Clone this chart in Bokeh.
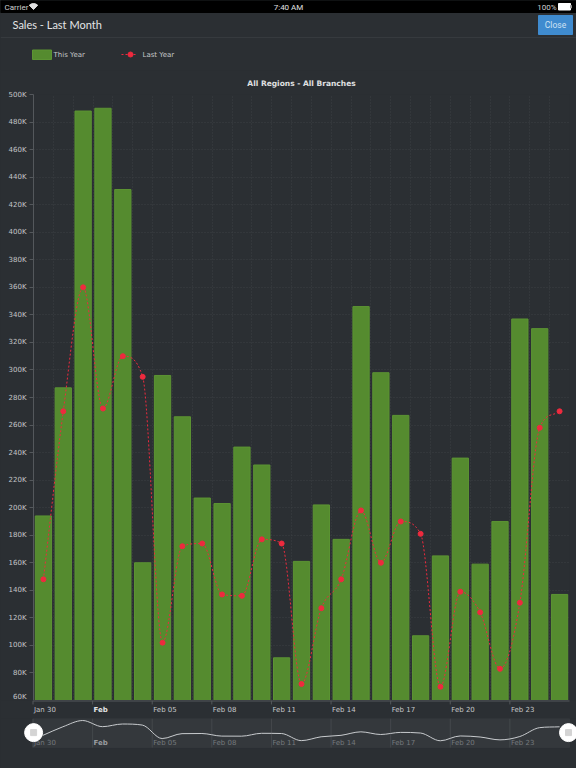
from bokeh.plotting import figure
from bokeh.layouts import column
from bokeh.models import Range1d, FixedTicker, ColumnDataSource, Title
from bokeh.core.properties import value
from bokeh.embed import file_html
from bokeh.resources import INLINE

# ---- data ----
this_year = [194, 287, 488, 490, 431, 160, 296, 266, 207, 203, 244, 231, 91, 161, 202, 177,
             346, 298, 267, 107, 165, 236, 159, 190, 337, 330, 137]
last_year = [148, 270, 360, 272, 310, 295, 102, 172, 174, 137, 136, 177, 174, 72, 127, 148,
             198, 160, 190, 181, 70, 139, 124, 83, 131, 258, 270]
tick_index = [0, 3, 6, 9, 12, 15, 18, 21, 24]
tick_text = ["Jan 30", "Feb", "Feb 05", "Feb 08", "Feb 11", "Feb 14", "Feb 17", "Feb 20", "Feb 23"]
y_ticks = list(range(60, 501, 20))
series_names = ["This Year", "Last Year"]

# ---- style ----
BG = "#2b2f33"
GRID = "#3d4145"
AXIS = "#54585c"
GREEN = "#558b2f"
GREEN_EDGE = "#5c9433"
RED = "#ee2a3e"
TXT = "#c4c6c8"
SANS = "DejaVu Sans"
PX = 536.5 / 27


def monotone_segments(values):
    """Cubic bezier segments (monotone-x) through the points at bar centres."""
    n = len(values)
    d = [values[i + 1] - values[i] for i in range(n - 1)]
    m = [0.0] * n
    for i in range(1, n - 1):
        if d[i - 1] * d[i] > 0:
            m[i] = (d[i - 1] + d[i]) / 2
            s = min(abs(d[i - 1]), abs(d[i]))
            m[i] = max(-3 * s, min(3 * s, m[i]))
    m[0], m[-1] = d[0], d[-1]
    return dict(
        x0=[i + 0.5 for i in range(n - 1)], y0=values[:-1],
        x1=[i + 1.5 for i in range(n - 1)], y1=values[1:],
        cx0=[i + 0.5 + 1 / 3 for i in range(n - 1)],
        cy0=[values[i] + m[i] / 3 for i in range(n - 1)],
        cx1=[i + 1.5 - 1 / 3 for i in range(n - 1)],
        cy1=[values[i + 1] - m[i + 1] / 3 for i in range(n - 1)],
    )


segments = monotone_segments(last_year)
centers = [i + 0.5 for i in range(len(this_year))]
wide_x = (-32.5 / PX, 27 + 7 / PX)


def bare(height, x_range, y_range):
    f = figure(width=576, height=height, x_range=x_range, y_range=y_range,
               output_backend="svg", toolbar_location=None, min_border=0,
               x_axis_location=None, y_axis_location=None, frame_align=False,
               background_fill_color=BG, border_fill_color=BG, outline_line_color=None)
    f.grid.visible = False
    return f


# ---- header (status bar, title bar, legend) in pixel-like coordinates ----
h = bare(70, Range1d(0, 576), Range1d(70, 0))
h.quad(left=[0], right=[576], top=[0], bottom=[12], color="#000000")
h.segment([0], [37], [576], [37], line_color="#363a3e", line_width=1)
h.quad(left=[538], right=[572], top=[15], bottom=[34], color="#3f8bcf")


def htext(x, y, s, size, color="#d8dadc", font="Roboto", align="left", style="normal"):
    h.text([x], [y], text=[s], text_font=value(font), text_font_size=f"{size}px", text_color=color,
           text_align=align, text_baseline="middle", text_font_style=style)


htext(4, 6.5, "Carrier", 8, "#d0d0d0")
h.wedge([33], [9], radius=6, start_angle=0.8, end_angle=2.35, color="#e0e0e0", direction="anticlock")
htext(288, 6.5, "7:40 AM", 8, "#e0e0e0", align="center")
htext(556, 6.5, "100%", 8, "#d0d0d0", align="right")
h.quad(left=[558], right=[570], top=[3], bottom=[9.5], color="#ffffff")
h.quad(left=[570], right=[571], top=[5], bottom=[7.5], color="#9a9a9a")
htext(12, 24, "Sales - Last Month", 11, "#e4e5e6", font="Lato")
htext(555, 24.5, "Close", 8.5, "#cfe2f3", align="center")
h.quad(left=[32], right=[51], top=[49.5], bottom=[59], fill_color=GREEN, line_color=GREEN_EDGE)
htext(53, 54.5, series_names[0], 7, TXT, font=SANS)
h.segment([121], [54], [136], [54], line_color=RED, line_width=1, line_dash="2 2")
h.scatter([130], [54], size=5, color=RED)
htext(142, 54.5, series_names[1], 7, TXT, font=SANS)

# ---- main chart ----
p = figure(width=576, height=630, x_range=Range1d(0, 27), y_range=Range1d(60, 500),
           output_backend="svg", toolbar_location=None, x_axis_location=None, frame_align=False,
           min_border_left=33, min_border_right=7, min_border_top=24, min_border_bottom=0,
           background_fill_color=BG, border_fill_color=BG, outline_line_color=None)
p.title = Title(text="All Regions - All Branches", align="center", text_color="#e0e1e2",
                text_font=SANS, text_font_size="7.5px", text_font_style="bold", standoff=13)
p.yaxis.ticker = FixedTicker(ticks=y_ticks)
p.yaxis.major_label_overrides = {v: f"{v}K" for v in y_ticks}
p.yaxis.major_label_text_font = SANS
p.yaxis.major_label_text_font_size = "7px"
p.yaxis.major_label_text_color = TXT
p.yaxis.major_label_standoff = 3
ax = p.yaxis[0]
ax.axis_line_color = AXIS
ax.major_tick_line_color = AXIS
ax.minor_tick_line_color = None
ax.major_tick_out = 4
ax.major_tick_in = 0
p.xgrid.ticker = FixedTicker(ticks=list(range(len(this_year) + 1)))
for g in (p.xgrid[0], p.ygrid[0]):
    g.grid_line_color = GRID
    g.grid_line_dash = "1 2"
    g.grid_line_width = 1
p.vbar(x=centers, top=this_year, bottom=60, width=0.82, fill_color=GREEN, line_color=GREEN_EDGE, line_width=1)
p.bezier(source=ColumnDataSource(segments), x0="x0", y0="y0", x1="x1", y1="y1",
         cx0="cx0", cy0="cy0", cx1="cx1", cy1="cy1",
         line_color=RED, line_width=1, line_dash="2 2")
p.scatter(centers, last_year, size=5, color=RED)

# ---- x axis strip below the plot ----
tick_src = ColumnDataSource(dict(
    x=tick_index, y=[0.35] * len(tick_index), y2=[45] * len(tick_index), text=tick_text,
    style=["bold" if t == "Feb" else "normal" for t in tick_text],
    color=["#e4e5e6" if t == "Feb" else TXT for t in tick_text],
    navcolor=["#9a9da0" if t == "Feb" else "#75797d" for t in tick_text],
))
s = bare(18, Range1d(*wide_x), Range1d(1, 0))
s.segment([0], [0], [27], [0], line_color=AXIS, line_width=2)
s.segment(x0=tick_index, y0=[0] * len(tick_index), x1=tick_index, y1=[0.22] * len(tick_index),
          line_color=AXIS, line_width=1)
s.text(source=tick_src, x="x", y="y", text="text", x_offset=1, y_offset=3, text_font=value(SANS),
       text_font_size="7px", text_color="color", text_font_style="style",
       text_align="left", text_baseline="middle")

# ---- navigator ----
n = bare(50, Range1d(*wide_x), Range1d(-327, 389))
n.quad(left=[0], right=[27], top=[389], bottom=[-27], color="#34383c")
n.segment(x0=tick_index, y0=[389] * len(tick_index), x1=tick_index, y1=[-27] * len(tick_index),
          line_color="#44484c", line_width=1)
n.text(source=tick_src, x="x", y="y2", text="text", x_offset=1, text_font=value(SANS), text_font_size="7px",
       text_color="navcolor", text_font_style="style", text_align="left", text_baseline="middle")
n.bezier(source=ColumnDataSource(segments), x0="x0", y0="y0", x1="x1", y1="y1",
         cx0="cx0", cy0="cy0", cx1="cx1", cy1="cy1", line_color="#c8cbce", line_width=1)
n.scatter([0.03, 26.95], [187, 187], size=18, color="#ffffff")
n.scatter([0.03, 26.95], [187, 187], size=6, marker="square", color="#d4d4d4")

page = column(h, p, s, n, spacing=0,
              styles={"position": "fixed", "left": "0", "top": "0", "background": BG})
open("out.html", "w").write(file_html(page, INLINE))
